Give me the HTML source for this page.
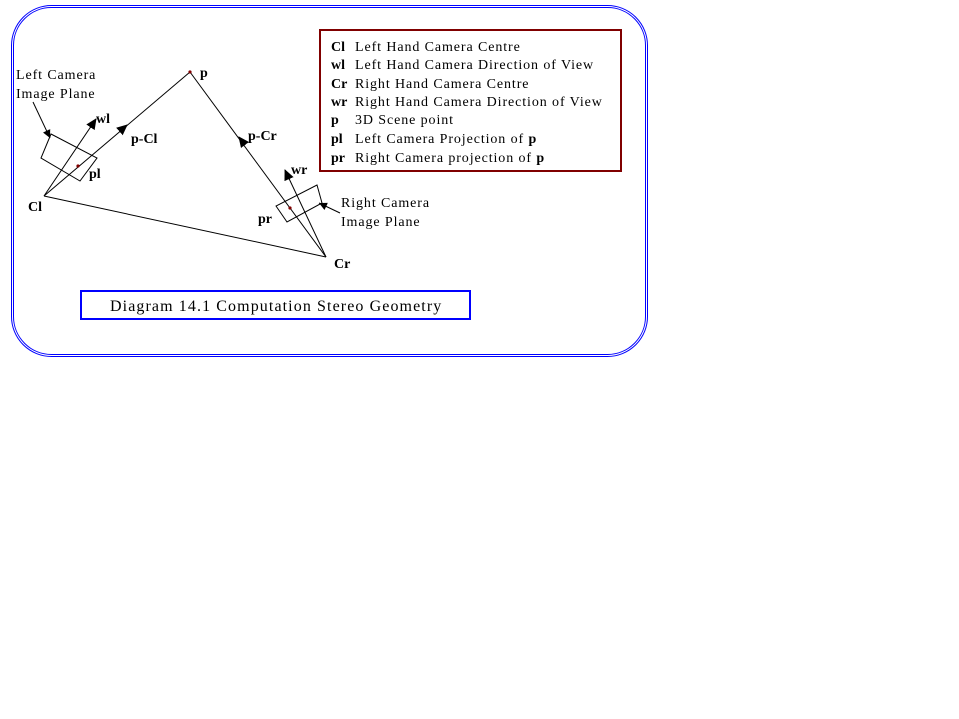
<!DOCTYPE html>
<html><head><meta charset="utf-8"><style>
html,body{margin:0;padding:0;background:#fff;width:959px;height:719px;overflow:hidden}
svg text{font-family:"Liberation Serif",serif;fill:#000}
.b{font-weight:bold;letter-spacing:0}
.t{letter-spacing:0.9px}
</style></head><body>
<svg width="959" height="719" viewBox="0 0 959 719" xmlns="http://www.w3.org/2000/svg">
<defs>
<marker id="ar" markerWidth="12" markerHeight="12" refX="10" refY="5" orient="auto" markerUnits="userSpaceOnUse">
<path d="M0,0 L11,5 L0,10 Z" fill="#000"/></marker>
<marker id="sa" markerWidth="10" markerHeight="8" refX="8" refY="4" orient="auto" markerUnits="userSpaceOnUse">
<path d="M0,0 L8,4 L0,8 Z" fill="#000"/></marker>
</defs>
<rect x="11.5" y="5.5" width="636" height="351" rx="40" fill="none" stroke="#0000ff" stroke-width="1"/>
<rect x="13.5" y="7.5" width="632" height="347" rx="38" fill="none" stroke="#0000ff" stroke-width="1"/>

<rect x="320" y="30" width="301" height="141" fill="none" stroke="#800000" stroke-width="2"/>
<g font-size="14">
<text x="331" y="51" class="b">Cl</text><text x="355" y="51" class="t">Left Hand Camera Centre</text>
<text x="331" y="69" class="b">wl</text><text x="355" y="69" class="t">Left Hand Camera Direction of View</text>
<text x="331" y="88" class="b">Cr</text><text x="355" y="88" class="t">Right Hand Camera Centre</text>
<text x="331" y="106" class="b">wr</text><text x="355" y="106" class="t">Right Hand Camera Direction of View</text>
<text x="331" y="124" class="b">p</text><text x="355" y="124" class="t">3D Scene point</text>
<text x="331" y="143" class="b">pl</text><text x="355" y="143" class="t">Left Camera Projection of <tspan class="b">p</tspan></text>
<text x="331" y="162" class="b">pr</text><text x="355" y="162" class="t">Right Camera projection of <tspan class="b">p</tspan></text>
</g>

<rect x="81" y="291" width="389" height="28" fill="none" stroke="#0000ff" stroke-width="2"/>
<text x="110" y="311" font-size="16" style="letter-spacing:1.1px">Diagram 14.1 Computation Stereo Geometry</text>

<g stroke="#000" stroke-width="1" fill="none">
<line x1="44" y1="196" x2="190" y2="72"/>
<line x1="120" y1="131" x2="127" y2="125" marker-end="url(#ar)"/>
<line x1="44" y1="196" x2="96" y2="119"/>
<line x1="90" y1="128" x2="96" y2="119" marker-end="url(#ar)"/>
<line x1="44" y1="196" x2="326" y2="257"/>
<line x1="190" y1="72" x2="326" y2="257"/>
<line x1="245" y1="145" x2="239" y2="137" marker-end="url(#ar)"/>
<line x1="326" y1="257" x2="285" y2="170"/>
<line x1="289" y1="179" x2="285" y2="170" marker-end="url(#ar)"/>
<polygon points="51,134 41,158 80,181 97,158"/>
<polygon points="276,206 287,222 322,203 317,185"/>
<line x1="33" y1="102" x2="50" y2="138" marker-end="url(#sa)"/>
<line x1="340" y1="213" x2="319" y2="203" marker-end="url(#sa)"/>
</g>
<circle cx="190" cy="72" r="1.6" fill="#800000"/>
<circle cx="78" cy="166" r="1.6" fill="#800000"/>
<circle cx="290" cy="208" r="1.6" fill="#800000"/>

<g font-size="14">
<text x="16" y="79" class="t">Left Camera</text>
<text x="16" y="98" class="t">Image Plane</text>
<text x="341" y="207" class="t">Right Camera</text>
<text x="341" y="226" class="t">Image Plane</text>
<text x="200" y="77" class="b">p</text>
<text x="96" y="123" class="b">wl</text>
<text x="131" y="143" class="b">p-Cl</text>
<text x="248" y="140" class="b">p-Cr</text>
<text x="89" y="178" class="b">pl</text>
<text x="28" y="211" class="b">Cl</text>
<text x="291" y="174" class="b">wr</text>
<text x="258" y="223" class="b">pr</text>
<text x="334" y="268" class="b">Cr</text>
</g>
</svg>
</body></html>
